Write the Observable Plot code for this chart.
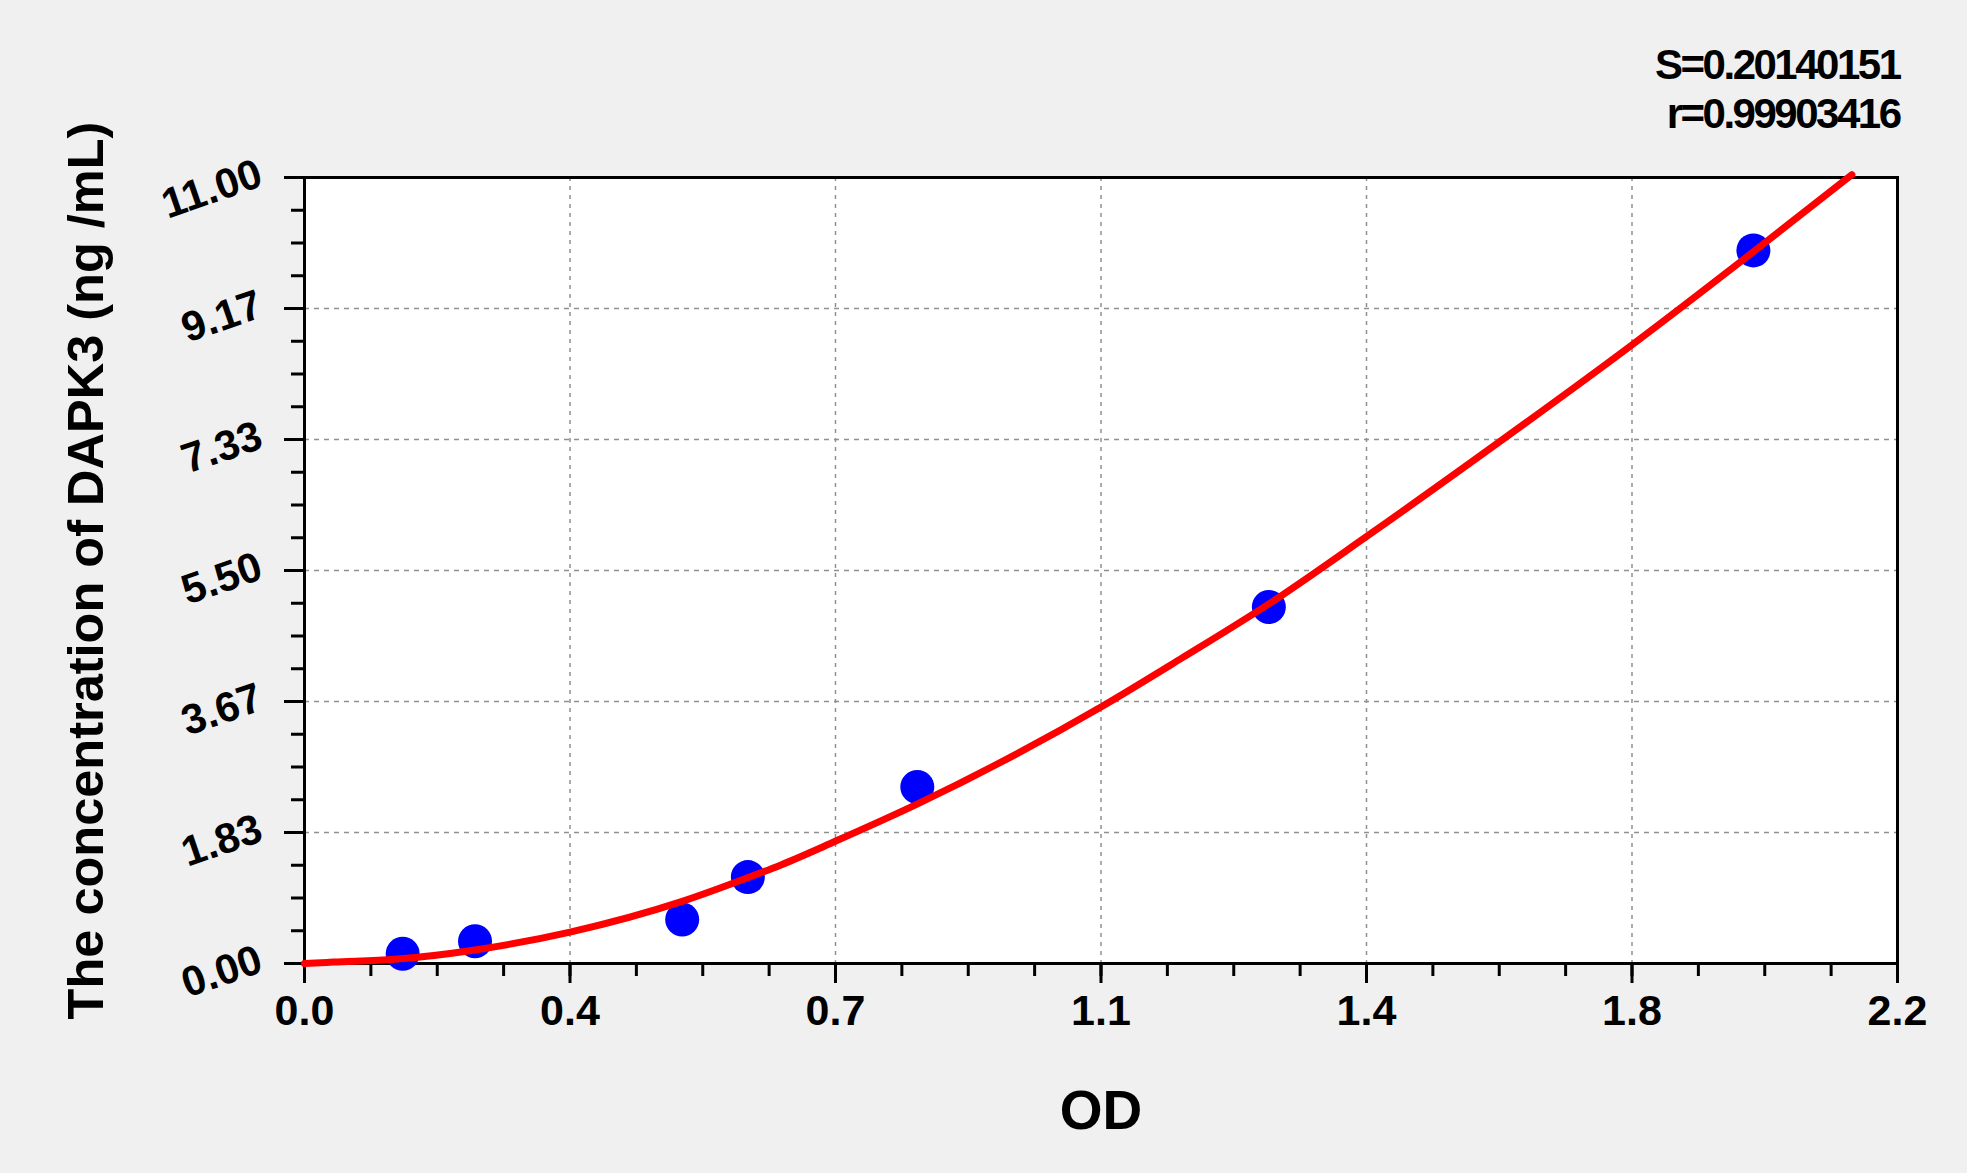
<!DOCTYPE html>
<html>
<head>
<meta charset="utf-8">
<script src="https://cdn.jsdelivr.net/npm/d3@7"></script>
<script src="https://cdn.jsdelivr.net/npm/@observablehq/plot@0.6"></script>
<style>
  html, body { margin: 0; padding: 0; background: #f0f0f0; }
  #chart svg { display: block; }
</style>
</head>
<body>
<div id="chart"></div>
<script>
// Standard points (OD, concentration)
const pointOD   = [0.1356, 0.2355, 0.5216, 0.6123, 0.8463, 1.3318, 2.001];
const pointConc = [0.136, 0.312, 0.616, 1.209, 2.47, 4.99, 9.98];

// Fitted curve
const curveOD   = [0, 0.04, 0.125, 0.2355, 0.3667, 0.5216, 0.612, 0.658, 0.733, 0.846, 0.981, 1.1, 1.211, 1.333, 1.466, 1.653, 1.835, 2.001, 2.137];
const curveConc = [0, 0.02, 0.06, 0.19, 0.44, 0.87, 1.2, 1.38, 1.71, 2.23, 2.92, 3.59, 4.27, 5.04, 5.97, 7.32, 8.67, 9.96, 11.04];

// Axis ticks
const xTickValues = [0, 0.36667, 0.73333, 1.1, 1.46667, 1.83333, 2.2];
const xTickLabels = ["0.0", "0.4", "0.7", "1.1", "1.4", "1.8", "2.2"];
const yTickValues = [0, 1.83333, 3.66667, 5.5, 7.33333, 9.16667, 11];
const yTickLabels = ["0.00", "1.83", "3.67", "5.50", "7.33", "9.17", "11.00"];

const statLines = ["S=0.20140151", "r=0.99903416"];
const xTitle = "OD";
const yTitle = "The concentration of DAPK3 (ng /mL)";

const points = pointOD.map((x, i) => ({x, y: pointConc[i]}));
const curve = curveOD.map((x, i) => ({x, y: curveConc[i]}));
const xTicks = xTickValues.map((v, i) => ({v, label: xTickLabels[i]}));
const yTicks = yTickValues.map((v, i) => ({v, label: yTickLabels[i]}));
const xMinor = d3.range(0, 25).map(i => i * 2.2 / 24);
const yMinor = d3.range(0, 25).map(i => i * 11 / 24);

const font = "'Liberation Sans', Arial, sans-serif";

const chart = Plot.plot({
  width: 1967,
  height: 1173,
  marginLeft: 304,
  marginRight: 70,
  marginTop: 177,
  marginBottom: 210,
  style: {background: "#f0f0f0", fontFamily: font, fontWeight: "bold", color: "black", overflow: "visible"},
  x: {domain: [0, 2.2], axis: null},
  y: {domain: [0, 11], axis: null},
  marks: [
    Plot.frame({fill: "white", stroke: null}),
    Plot.gridX(xTickValues.slice(1, -1), {stroke: "#909090", strokeOpacity: 1, strokeWidth: 1.5, strokeDasharray: "4,5"}),
    Plot.gridY(yTickValues.slice(1, -1), {stroke: "#909090", strokeOpacity: 1, strokeWidth: 1.5, strokeDasharray: "5,5"}),
    // minor and major ticks
    Plot.axisX({ticks: xMinor, tickSize: 13, text: null, strokeWidth: 3, stroke: "black"}),
    Plot.axisX({ticks: xTickValues, tickSize: 20, text: null, strokeWidth: 3, stroke: "black"}),
    Plot.axisY({ticks: yMinor, tickSize: 13, text: null, strokeWidth: 3, stroke: "black"}),
    Plot.axisY({ticks: yTickValues, tickSize: 20, text: null, strokeWidth: 3, stroke: "black"}),
    Plot.frame({stroke: "black", strokeWidth: 3}),
    // data
    Plot.dot(points, {x: "x", y: "y", r: 17, fill: "#0000ff", stroke: null}),
    Plot.line(curve, {x: "x", y: "y", curve: "monotone-x", stroke: "#ff0000", strokeWidth: 7, clip: false}),
    // tick labels
    Plot.text(xTicks, {x: "v", frameAnchor: "bottom", text: "label", dy: 48, fontSize: 43, fontWeight: "bold", fill: "black", lineAnchor: "middle"}),
    Plot.text(yTicks, {y: "v", frameAnchor: "left", text: "label", dx: -44, dy: -5, rotate: -19, textAnchor: "end", lineAnchor: "middle", fontSize: 42, fontWeight: "bold", fill: "black"}),
    // titles
    Plot.text([xTitle], {frameAnchor: "bottom", text: d => d, dy: 148, fontSize: 55, fontWeight: "bold", fill: "black", lineAnchor: "middle", textAnchor: "middle"}),
    Plot.text([yTitle], {frameAnchor: "left", text: d => d, dx: -218, rotate: -90, fontSize: 50.5, fontWeight: "bold", fill: "black", lineAnchor: "middle", textAnchor: "middle"}),
    Plot.text([statLines[0]], {frameAnchor: "top-right", text: d => d, dx: 2, dy: -99, fontSize: 42, fontWeight: "bold", fill: "black", textAnchor: "end", lineAnchor: "bottom"}),
    Plot.text([statLines[1]], {frameAnchor: "top-right", text: d => d, dx: 2, dy: -50, fontSize: 42, fontWeight: "bold", fill: "black", textAnchor: "end", lineAnchor: "bottom"})
  ]
});
document.getElementById("chart").appendChild(chart);
// condensed look of the statistics lines
d3.select(chart).selectAll("text").filter(function() {
  return statLines.includes(this.textContent);
}).style("letter-spacing", "-2.5px");
</script>
</body>
</html>
